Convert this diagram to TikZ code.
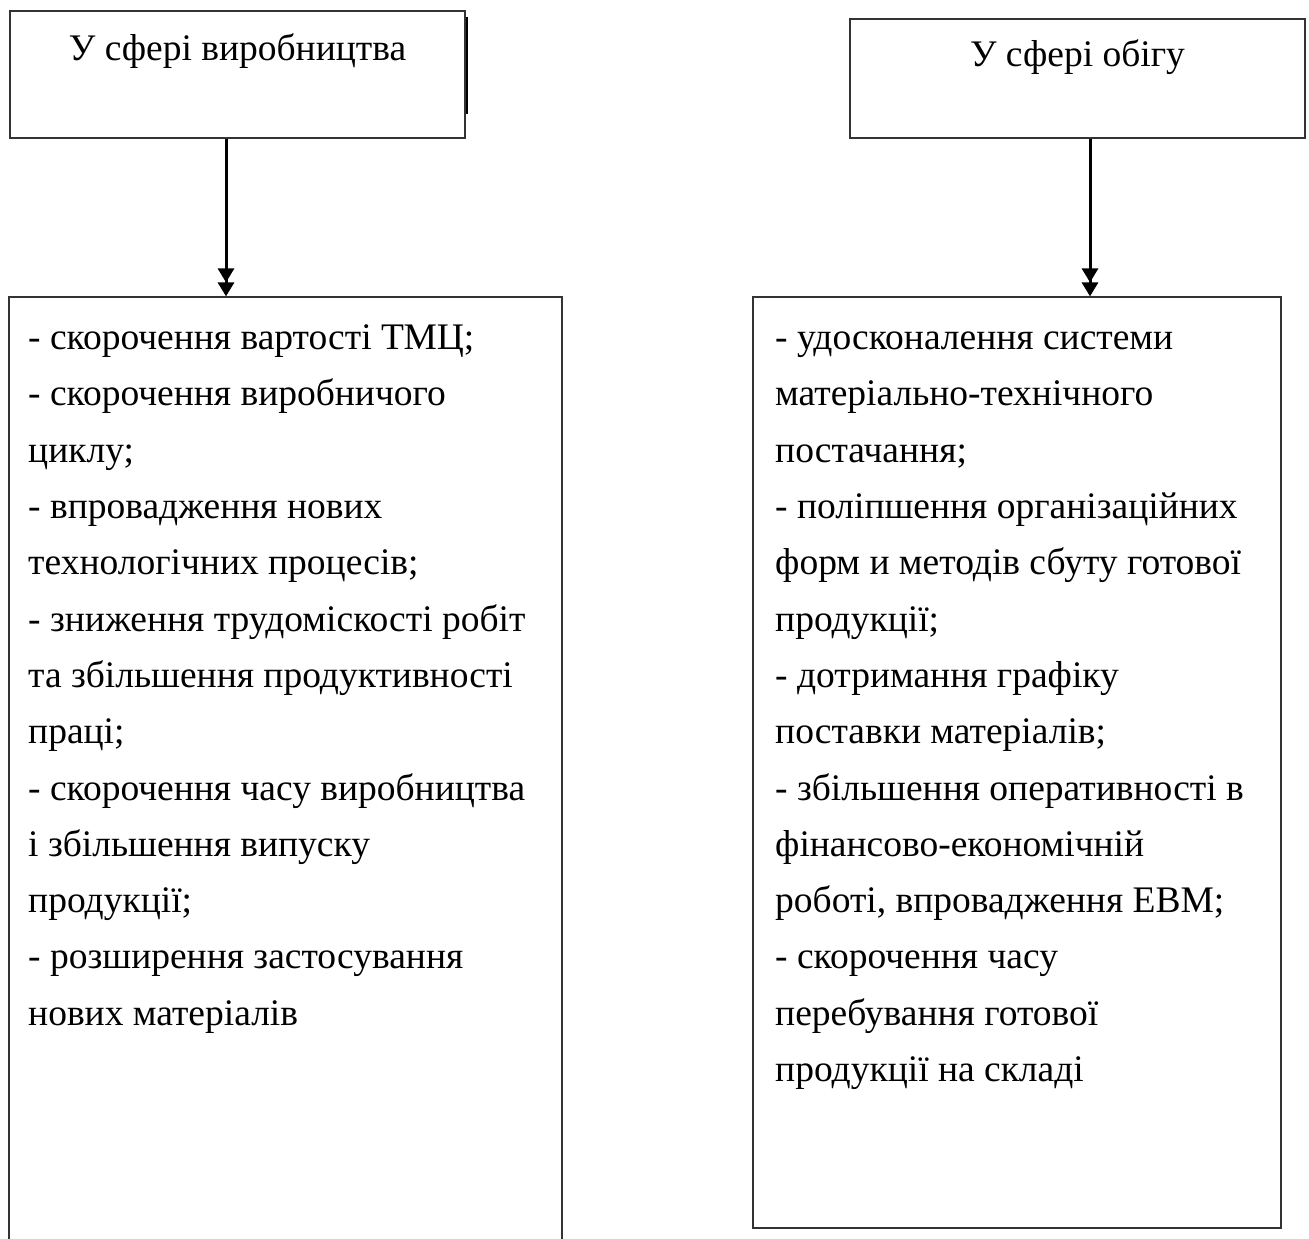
\documentclass[tikz,border=0pt]{standalone}
\usepackage{fontspec}
\setmainfont{Liberation Serif}
\usetikzlibrary{arrows.meta}
\tikzset{
  sectorbox/.style={
    draw=black!80,
    line width=1.2pt,
    inner sep=0pt
  },
  headtext/.style={
    inner sep=0pt,
    anchor=base,
    font=\fontsize{37.5}{45}\selectfont
  },
  listtext/.style={
    inner sep=0pt,
    anchor=north west,
    align=left,
    font=\fontsize{37.5}{56.3}\selectfont
  },
  feeds/.style={
    line width=3pt,
    -{Triangle[length=14pt,width=16pt]Triangle[length=14pt,width=16pt]}
  },
  every picture/.style={
    x=1pt,
    y=-1pt
  }
}

\begin{document}
\begin{tikzpicture}
  \useasboundingbox (0,0) rectangle (1309,1239);
  % upper boxes
  \node[sectorbox, minimum width=455pt, minimum height=127pt] (prod) at (237.5,74.5) {};
  \node[sectorbox, minimum width=455pt, minimum height=119pt] (circ) at (1077.5,78.5) {};
  \node[headtext] (prodhead) at ([yshift=-50pt]prod.north) {У сфері виробництва};
  \node[headtext] (circhead) at ([yshift=-48pt]circ.north) {У сфері обігу};
  \draw[line width=2pt] ([xshift=1pt,yshift=-7pt]prod.north east) -- ([xshift=1pt,yshift=25pt]prod.south east);
  % lower boxes
  \node[sectorbox, minimum width=553pt, minimum height=963pt] (prodlist) at (285.5,778.5) {};
  \node[sectorbox, minimum width=528pt, minimum height=931pt] (circlist) at (1017,762.5) {};
  \node[listtext] (prodtext) at (28,310) {%
    \strut- скорочення вартості ТМЦ;\\
    - скорочення виробничого\\
    циклу;\\
    - впровадження нових\\
    технологічних процесів;\\
    - зниження трудомiскості робіт\\
    та збільшення продуктивності\\
    праці;\\
    - скорочення часу виробництва\\
    і збільшення випуску\\
    продукції;\\
    - розширення застосування\\
    нових матеріалів};
  \node[listtext] (circtext) at (775,310) {%
    \strut- удосконалення системи\\
    матеріально-технічного\\
    постачання;\\
    - поліпшення організаційних\\
    форм и методів сбуту готової\\
    продукції;\\
    - дотримання графіку\\
    поставки матеріалів;\\
    - збільшення оперативності в\\
    фінансово-економічній\\
    роботі, впровадження ЕВМ;\\
    - скорочення часу\\
    перебування готової\\
    продукції на складі};
  % arrows
  \draw[feeds] ([xshift=-11.5pt]prod.south) -- ([xshift=-11.5pt]prod.south |- prodlist.north);
  \draw[feeds] ([xshift=12.5pt]circ.south) -- ([xshift=12.5pt]circ.south |- circlist.north);
\end{tikzpicture}
\end{document}
